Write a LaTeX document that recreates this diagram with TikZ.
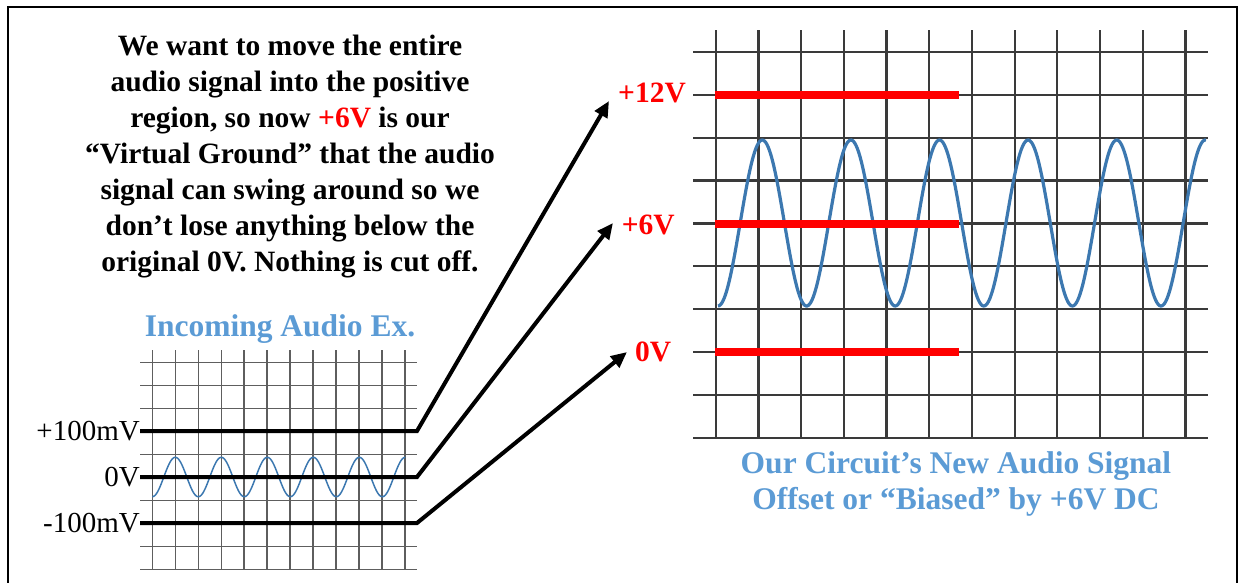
\documentclass[tikz,border=0pt]{standalone}
\usepackage{fontspec}
\setmainfont{Liberation Serif}
\usetikzlibrary{arrows.meta}
\definecolor{sigblue}{HTML}{3C78B0}
\definecolor{lblblue}{HTML}{5B9BD5}
\definecolor{gridR}{HTML}{3A3A3A}
\definecolor{gridL}{HTML}{5E5E5E}
\tikzset{
  bigtext/.style={font=\bfseries\fontsize{29.5}{36}\selectfont},
  bluetext/.style={font=\bfseries\fontsize{31.5}{36}\selectfont, text=lblblue, align=center},
  voltlabel/.style={font=\bfseries\fontsize{29.5}{36}\selectfont, text=red, anchor=west, inner sep=0pt},
  mvlabel/.style={font=\fontsize{29}{34}\selectfont, anchor=east, inner sep=0pt},
  rgrid/.style={draw=gridR, line width=2.2pt},
  lgrid/.style={draw=gridL, line width=1.4pt},
  redline/.style={draw=red, line width=8pt},
  conn/.style={draw=black, line width=4pt, -{Triangle[length=16pt,width=14pt]}},
  wave/.style={draw=sigblue, line width=3.2pt, smooth},
  smallwave/.style={draw=sigblue, line width=1.5pt, smooth}
}
\begin{document}
\begin{tikzpicture}[x=1pt,y=-1pt]
\useasboundingbox (0,0) rectangle (1238,582);
\fill[white] (0,0) rectangle (1238,582);
% frame
\draw[line width=2pt] (8,590) -- (8,6.5) -- (1237,6.5) -- (1237,590);

% right grid
\foreach \i in {0,...,11} \draw[rgrid] ({715.7+42.7*\i},30) -- ({715.7+42.7*\i},437.7);
\foreach \j in {0,...,9} \draw[rgrid] (693,{52+42.85*\j}) -- (1208,{52+42.85*\j});
% right wave
\draw[wave] plot[domain=718:1206, samples=400] (\x, {223+83*cos((\x-718)*4.0632)});
% red bias lines
\draw[redline] (715,95.3) -- (959,95.3);
\draw[redline] (715,223.7) -- (959,223.7);
\draw[redline] (715,352.3) -- (959,352.3);

% left grid
\foreach \i in {0,...,11} \draw[lgrid] ({152.3+22.97*\i},350) -- ({152.3+22.97*\i},569.7);
\foreach \j in {0,...,9} \draw[lgrid] (140,{362.3+23.04*\j}) -- (417,{362.3+23.04*\j});
\draw[smallwave] plot[domain=152.3:405.3, samples=300] (\x, {477+19.7*cos((\x-152.3)*7.8261)});

% texts
\node[bigtext, align=center] (main) at (290,157) {We want to move the entire\\ audio signal into the positive\\ region, so now \textcolor{red}{+6V} is our\\ “Virtual Ground” that the audio\\ signal can swing around so we\\ don’t lose anything below the\\ original 0V. Nothing is cut off.};
\node[bluetext] (inc) at (280,329) {Incoming Audio Ex.};
\node[bluetext] (ours) at (956,484) {Our Circuit’s New Audio Signal\\ Offset or “Biased” by +6V DC};

\node[voltlabel] (v12) at (618,93) {+12V};
\node[voltlabel] (v6) at (621.7,225) {+6V};
\node[voltlabel] (v0) at (635,352) {0V};

\node[mvlabel] (p100) at (140,431) {+100mV};
\node[mvlabel] (z0) at (140,477) {0V};
\node[mvlabel] (m100) at (140,523) {-100mV};

% connectors
\coordinate (b12) at (417,431);
\coordinate (b6) at (417,477);
\coordinate (b0) at (417,523);
\coordinate (t12) at (609,101);
\coordinate (t6) at (613,223);
\coordinate (t0) at (627,352);
\draw[conn] (p100.east) -- (b12) -- (t12);
\draw[conn] (z0.east) -- (b6) -- (t6);
\draw[conn] (m100.east) -- (b0) -- (t0);
\end{tikzpicture}
\end{document}
